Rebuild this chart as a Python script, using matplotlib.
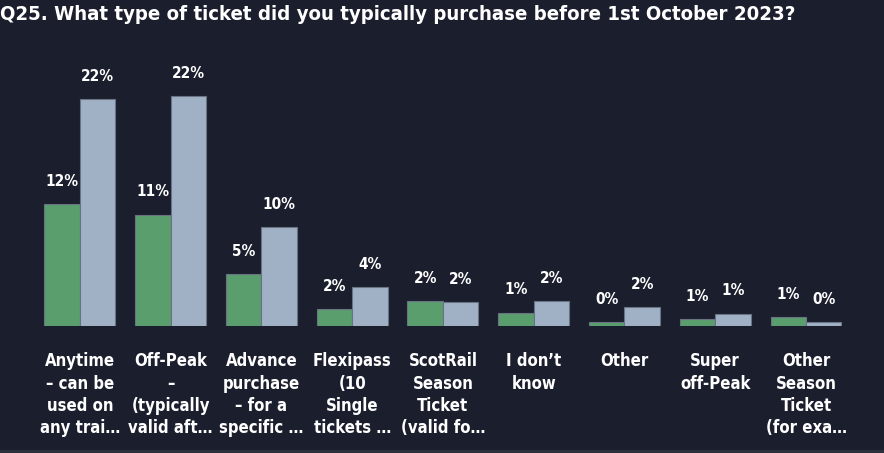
import matplotlib
matplotlib.use("Agg")
import matplotlib.pyplot as plt
import numpy as np
from matplotlib.patches import Rectangle

# chart data
categories = ["Anytime\n\u2013 can be\nused on\nany trai\u2026",
              "Off-Peak\n\u2013\n(typically\nvalid aft\u2026",
              "Advance\npurchase\n\u2013 for a\nspecific \u2026",
              "Flexipass\n(10\nSingle\ntickets \u2026",
              "ScotRail\nSeason\nTicket\n(valid fo\u2026",
              "I don\u2019t\nknow",
              "Other",
              "Super\noff-Peak",
              "Other\nSeason\nTicket\n(for exa\u2026"]
green_vals = [11.8, 10.8, 5.0, 1.6, 2.4, 1.3, 0.4, 0.65, 0.85]
grey_vals = [22.0, 22.3, 9.6, 3.8, 2.3, 2.4, 1.8, 1.2, 0.4]
title = "Q25. What type of ticket did you typically purchase before 1st October 2023?"

bg = "#1a1e2d"
green = "#5a9e6e"
grey = "#a0b1c6"
edge = "#6a7384"
fnt = "DejaVu Sans"

fig = plt.figure(figsize=(8.84, 4.53), dpi=100, facecolor=bg)
ax = fig.add_axes([0.0391, 0.2804, 0.924, 0.5684])
ax.set_facecolor(bg)

x = np.arange(len(categories))
w = 0.391
b1 = ax.bar(x - w/2, green_vals, w, color=green, edgecolor=edge, linewidth=0.8)
b2 = ax.bar(x + w/2, grey_vals, w, color=grey, edgecolor=edge, linewidth=0.8)

for bars, vals in [(b1, green_vals), (b2, grey_vals)]:
    for r, v in zip(bars, vals):
        ax.annotate("{:.0f}%".format(v), (r.get_x() + r.get_width()/2, v),
                    xytext=(0, 11), textcoords="offset points",
                    ha="center", va="bottom", color="white",
                    fontsize=11, fontweight="bold", family=fnt,
                    fontstretch="condensed")

ax.set_xlim(-0.5, len(categories) - 0.5)
ax.set_ylim(0, 25)
ax.set_xticks(x)
ax.set_xticklabels(categories, color="white", fontsize=12, fontweight="bold",
                   family=fnt, fontstretch="condensed", va="top",
                   linespacing=1.3)
ax.tick_params(length=0, pad=19)
ax.set_yticks([])
for s in ax.spines.values():
    s.set_visible(False)

fig.text(0.0, 0.969, title, color="white", fontsize=14.6, fontweight="bold",
         family=fnt, fontstretch="condensed", ha="left", va="center")

# thin lighter strip at the bottom edge
fig.patches.append(Rectangle((0, 0), 1, 0.007, transform=fig.transFigure,
                             color="#2c303b", zorder=0))

fig.savefig("out.png", dpi=100, facecolor=bg)
